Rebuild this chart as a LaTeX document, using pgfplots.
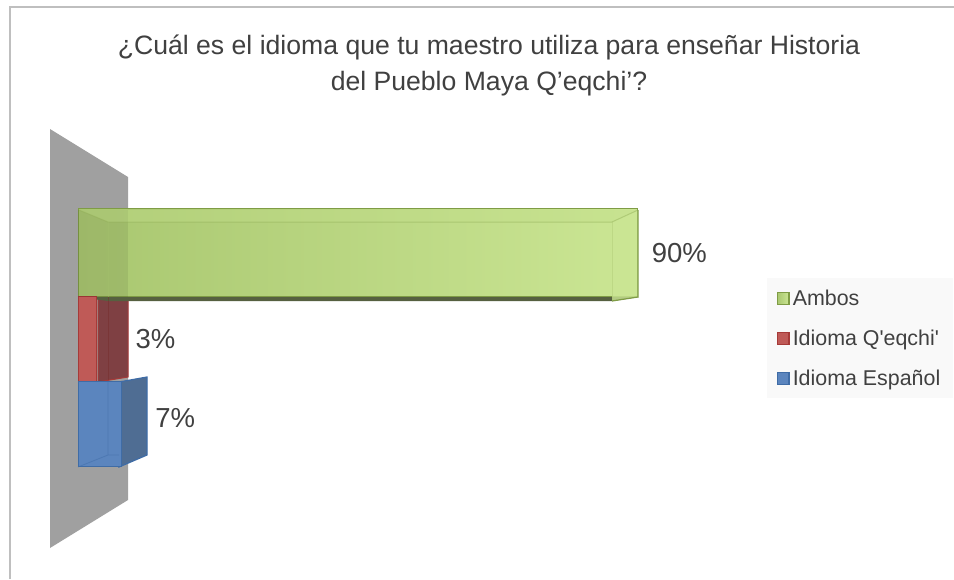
\documentclass[border=0pt]{standalone}
\usepackage{pgfplots}
\pgfplotsset{compat=1.18}
\usepackage{fontspec}
\setmainfont{Liberation Sans}
\newfontfamily\legfont{Liberation Sans}
\definecolor{txt}{HTML}{404040}
\definecolor{wall}{HTML}{A0A0A0}
\definecolor{grnL}{HTML}{7F9C45}
\definecolor{grnA}{HTML}{A9C770}
\definecolor{grnB}{HTML}{CBE694}
\definecolor{grnTop}{HTML}{C3DF8B}
\definecolor{grnDark}{HTML}{566040}
\definecolor{redF}{HTML}{BF5A57}
\definecolor{redL}{HTML}{A63A38}
\definecolor{redS}{HTML}{7F4043}
\definecolor{bluF}{HTML}{5B85BE}
\definecolor{bluL}{HTML}{3F6CA6}
\definecolor{bluS}{HTML}{4F6D93}
\definecolor{legbg}{HTML}{F9F9F9}
\pgfplotsset{
  canvas/.style={scale only axis,width=954pt,height=579pt,at={(0pt,0pt)},anchor=south west,hide axis,clip=false},
  pix/.style={canvas,xmin=0,xmax=954,ymin=0,ymax=579,y dir=reverse},
}
\begin{document}
\begin{tikzpicture}[x=1pt,y=1pt]
\path[use as bounding box] (0,0) rectangle (954,579);
% background, frame, wall and rear faces (picture coordinates)
\begin{axis}[pix]
\fill[white] (0,0) rectangle (954,579);
\draw[color=black!25,line width=2pt] (10,579) -- (10,7) -- (954,7);
\fill[wall] (50,129) -- (128,177) -- (128,500) -- (50,548) -- cycle;
\node[align=center,text=txt,font=\fontsize{26.6}{36}\selectfont] at (489,65)
  {¿Cuál es el idioma que tu maestro utiliza para enseñar Historia\\del Pueblo Maya Q’eqchi’?};
% rear / side faces
\filldraw[fill=redS,draw=redL,line width=1pt] (98,297) -- (128,299) -- (128,377) -- (98,382) -- cycle;
\filldraw[fill=bluS,draw=bluL,line width=1.2pt] (119,382) -- (147,377) -- (147,455) -- (119,467) -- cycle;
\fill[grnDark] (78,297) -- (639,297) -- (613,301) -- (108,301) -- cycle;
\end{axis}
% the data
\begin{axis}[canvas,xmin=-12.536,xmax=140.79,ymin=-1.8017,ymax=4.9504,
  xbar,
  /pgf/number format/assume math mode=true,
  legend cell align=left,
  legend image code/.code={\draw[#1,line width=1.3pt] (0.6pt,-6pt) rectangle (12.4pt,6pt);},
  legend style={at={(767/954,1-278/579)},anchor=north west,draw=none,fill=legbg,
    font=\legfont\fontsize{21.4}{24}\selectfont,text=txt,row sep=23pt,
    inner xsep=9.5pt,inner ysep=11.5pt,
    nodes={inner xsep=3pt,inner ysep=0pt},
    /tikz/every even column/.append style={column sep=0pt}},
  nodes near coords={\pgfmathprintnumber{\pgfplotspointmeta}\%},
  point meta=explicit,
  nodes near coords style={anchor=west,text=txt,font=\fontsize{27.5}{30}\selectfont},
]
\addplot[bar width=88pt,bar shift=0pt,left color=grnA,right color=grnB,draw=grnL,line width=1pt,
  nodes near coords style={xshift=10pt}] coordinates {(90,2) [90]};
\addplot[bar width=85pt,bar shift=0pt,fill=redF,draw=redL,line width=1pt,
  nodes near coords style={xshift=35pt}] coordinates {(3,1) [3]};
\addplot[bar width=85pt,bar shift=0pt,fill=bluF,draw=bluL,line width=1pt,
  nodes near coords style={xshift=30pt,yshift=6pt}] coordinates {(7,0) [7]};
\legend{Ambos,Idioma Q'eqchi',Idioma Español}
\end{axis}
% front details
\begin{axis}[pix]
\fill[black,opacity=.07] (78,210) rectangle (128,297);
\fill[grnTop,opacity=.35] (79,210) -- (638,210) -- (612,222) -- (108,222) -- cycle;
\fill[grnB,opacity=.8] (612,222) -- (638,210) -- (638,297) -- (612,301) -- cycle;
\draw[grnL!60!grnA,line width=1pt,opacity=.45] (79,210) -- (108,222) -- (612,222) -- (638,210);
\draw[grnL!50!grnB,line width=1pt,opacity=.35] (108,222) -- (108,297) (612,222) -- (612,301);
\draw[grnL,line width=1.2pt] (638,210) -- (638,297) -- (612,301);
\draw[bluL,line width=.8pt,opacity=.5] (108,382) -- (108,455) -- (78,467) (108,455) -- (119,455);
\draw[redL!70!black,line width=.8pt,opacity=.4] (108,297) -- (108,380);
\end{axis}
\end{tikzpicture}
\end{document}
